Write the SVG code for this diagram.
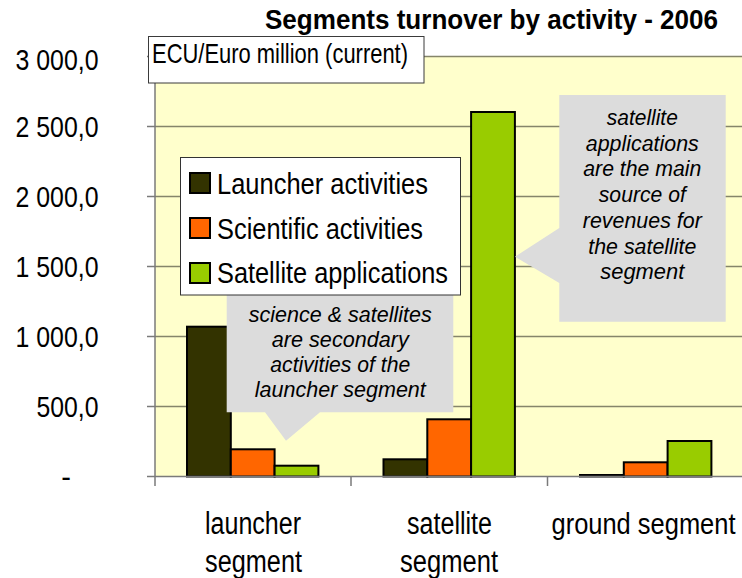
<svg xmlns="http://www.w3.org/2000/svg" width="742" height="578" viewBox="0 0 742 578">
  <style>
    .lbl { font-family: "Liberation Sans", Arial, sans-serif; fill: #000; }
    .ytick { font-size: 29px; text-anchor: end; }
    .xcat { font-size: 31px; text-anchor: middle; }
    .leg { font-size: 29px; }
    .note { font-size: 22px; font-style: italic; text-anchor: middle; }
    .grid { stroke: #85856a; stroke-width: 1.5; }
    .axis { stroke: #7a7a7a; stroke-width: 1.5; }
    .bar { stroke: #000; stroke-width: 2; }
    .launch { fill: #333300; }
    .sci { fill: #ff6600; }
    .sat { fill: #99cc00; }
    .callout { fill: #dcdcdc; }
  </style>

  <rect width="742" height="578" fill="#ffffff"/>

  <!-- plot area -->
  <g id="plot-area">
    <rect x="155" y="56.5" width="600" height="420" fill="#ffffcc"/>
    <line class="grid" x1="155" y1="56.5" x2="742" y2="56.5"/>
    <line class="grid" x1="155" y1="126.5" x2="742" y2="126.5"/>
    <line class="grid" x1="155" y1="196.5" x2="742" y2="196.5"/>
    <line class="grid" x1="155" y1="266.5" x2="742" y2="266.5"/>
    <line class="grid" x1="155" y1="336.5" x2="742" y2="336.5"/>
    <line class="grid" x1="155" y1="406.5" x2="742" y2="406.5"/>
  </g>

  <!-- bars -->
  <g id="bars-launcher">
    <rect class="bar launch" x="187" y="326.7" width="43.8" height="149.8"/>
    <rect class="bar sci" x="230.8" y="449.3" width="43.8" height="27.2"/>
    <rect class="bar sat" x="274.6" y="465.7" width="43.8" height="10.8"/>
  </g>
  <g id="bars-satellite">
    <rect class="bar launch" x="383.5" y="459.3" width="43.8" height="17.2"/>
    <rect class="bar sci" x="427.3" y="419.3" width="43.8" height="57.2"/>
    <rect class="bar sat" x="471.1" y="112" width="43.8" height="364.5"/>
  </g>
  <g id="bars-ground">
    <rect class="bar launch" x="580" y="475" width="43.8" height="1.5"/>
    <rect class="bar sci" x="623.8" y="462.3" width="43.8" height="14.2"/>
    <rect class="bar sat" x="667.6" y="441" width="43.8" height="35.5"/>
  </g>

  <!-- axes -->
  <g id="axes">
    <line class="axis" x1="155" y1="56.5" x2="155" y2="486"/>
    <line class="axis" x1="155" y1="476.5" x2="742" y2="476.5"/>
    <line class="axis" x1="147" y1="56.5" x2="155" y2="56.5"/>
    <line class="axis" x1="147" y1="126.5" x2="155" y2="126.5"/>
    <line class="axis" x1="147" y1="196.5" x2="155" y2="196.5"/>
    <line class="axis" x1="147" y1="266.5" x2="155" y2="266.5"/>
    <line class="axis" x1="147" y1="336.5" x2="155" y2="336.5"/>
    <line class="axis" x1="147" y1="406.5" x2="155" y2="406.5"/>
    <line class="axis" x1="147" y1="476.5" x2="155" y2="476.5"/>
    <line class="axis" x1="351" y1="476.5" x2="351" y2="486"/>
    <line class="axis" x1="547.5" y1="476.5" x2="547.5" y2="486"/>
  </g>

  <!-- value axis labels -->
  <g id="y-labels" class="lbl ytick">
    <text x="98.5" y="70" textLength="83" lengthAdjust="spacingAndGlyphs">3 000,0</text>
    <text x="98.5" y="137" textLength="83" lengthAdjust="spacingAndGlyphs">2 500,0</text>
    <text x="98.5" y="207" textLength="83" lengthAdjust="spacingAndGlyphs">2 000,0</text>
    <text x="98.5" y="277" textLength="83" lengthAdjust="spacingAndGlyphs">1 500,0</text>
    <text x="98.5" y="347" textLength="83" lengthAdjust="spacingAndGlyphs">1 000,0</text>
    <text x="98.5" y="417" textLength="62" lengthAdjust="spacingAndGlyphs">500,0</text>
    <text x="71" y="487">-</text>
  </g>

  <!-- category labels -->
  <g id="x-labels" class="lbl xcat">
    <text x="253" y="534" textLength="96" lengthAdjust="spacingAndGlyphs">launcher</text>
    <text x="253.5" y="572" textLength="97" lengthAdjust="spacingAndGlyphs">segment</text>
    <text x="449.5" y="534" textLength="85" lengthAdjust="spacingAndGlyphs">satellite</text>
    <text x="449" y="572" textLength="98" lengthAdjust="spacingAndGlyphs">segment</text>
    <text x="643.5" y="534" font-size="30" textLength="184" lengthAdjust="spacingAndGlyphs">ground segment</text>
  </g>

  <!-- title -->
  <g id="title">
    <text class="lbl" x="265" y="29" font-size="27" font-weight="bold" textLength="453" lengthAdjust="spacingAndGlyphs">Segments turnover by activity - 2006</text>
  </g>

  <!-- unit box -->
  <g id="unit-box">
    <rect x="148.5" y="36.5" width="275.5" height="46.5" fill="#ffffff" stroke="#3a3a3a" stroke-width="1"/>
    <text class="lbl" x="152" y="63" font-size="28" textLength="256" lengthAdjust="spacingAndGlyphs">ECU/Euro million (current)</text>
  </g>

  <!-- callout: launcher segment -->
  <g id="callout-launcher">
    <path class="callout" d="M226.7,291.7 H453.3 V412.3 H320 L286,440.7 L265,412.3 H226.7 Z"/>
    <g class="lbl note">
      <text x="340.3" y="322" textLength="183" lengthAdjust="spacingAndGlyphs">science &amp; satellites</text>
      <text x="340.3" y="347" textLength="137" lengthAdjust="spacingAndGlyphs">are secondary</text>
      <text x="340.3" y="372" textLength="140" lengthAdjust="spacingAndGlyphs">activities of the</text>
      <text x="340.3" y="397" textLength="171" lengthAdjust="spacingAndGlyphs">launcher segment</text>
    </g>
  </g>

  <!-- callout: satellite segment -->
  <g id="callout-satellite">
    <path class="callout" d="M559.3,95 H725.7 V321.7 H559.3 V283 L515,256.7 L559.3,228 Z"/>
    <g class="lbl note">
      <text x="642.3" y="125" textLength="71" lengthAdjust="spacingAndGlyphs">satellite</text>
      <text x="642.3" y="150.7" textLength="113" lengthAdjust="spacingAndGlyphs">applications</text>
      <text x="642.3" y="176.4" textLength="118" lengthAdjust="spacingAndGlyphs">are the main</text>
      <text x="642.3" y="202.1" textLength="87" lengthAdjust="spacingAndGlyphs">source of</text>
      <text x="642.3" y="227.8" textLength="119" lengthAdjust="spacingAndGlyphs">revenues for</text>
      <text x="642.3" y="253.5" textLength="108" lengthAdjust="spacingAndGlyphs">the satellite</text>
      <text x="642.3" y="279.2" textLength="84" lengthAdjust="spacingAndGlyphs">segment</text>
    </g>
  </g>

  <!-- legend -->
  <g id="legend">
    <rect x="180.5" y="157.5" width="280" height="137.5" fill="#ffffff" stroke="#333333" stroke-width="1"/>
    <rect class="bar launch" x="190" y="173" width="20" height="20"/>
    <rect class="bar sci" x="190" y="218" width="20" height="20"/>
    <rect class="bar sat" x="190" y="263" width="20" height="20"/>
    <g class="lbl leg">
      <text x="217" y="193.5" textLength="211" lengthAdjust="spacingAndGlyphs">Launcher activities</text>
      <text x="217" y="238.5" textLength="206" lengthAdjust="spacingAndGlyphs">Scientific activities</text>
      <text x="217" y="283" textLength="231" lengthAdjust="spacingAndGlyphs">Satellite applications</text>
    </g>
  </g>
</svg>
